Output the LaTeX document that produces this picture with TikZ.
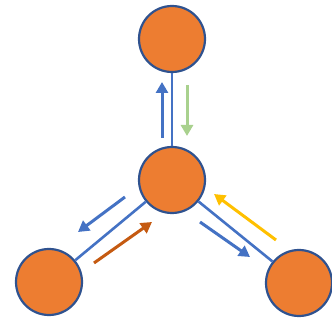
\documentclass[tikz,border=0pt]{standalone}
\usetikzlibrary{arrows.meta}
\definecolor{nodefill}{HTML}{ED7D31}
\definecolor{nodeborder}{HTML}{2F528F}
\definecolor{linkblue}{HTML}{4472C4}
\definecolor{arrgreen}{HTML}{A9D18E}
\definecolor{arrorange}{HTML}{C55A11}
\definecolor{arryellow}{HTML}{FFC000}
\tikzset{
  vertex/.style={circle, fill=nodefill, draw=nodeborder, line width=2.2pt, minimum size=66pt, inner sep=0pt},
  link/.style={draw=linkblue, line width=2.6pt},
  flow/.style={line width=3pt, -{Triangle[length=11pt,width=12pt]}}
}
\begin{document}
\begin{tikzpicture}[x=1pt,y=-1pt]
\useasboundingbox (0,0) rectangle (332,320);
\node[vertex] (top) at (172,39) {};
\node[vertex] (mid) at (172,180) {};
\node[vertex] (bl) at (49,282) {};
\node[vertex] (br) at (299,283) {};
\path[link] (top) -- (mid);
\path[link] (mid) -- (bl);
\path[link] (mid) -- (br);
\coordinate (a1s) at (162,138); \coordinate (a1e) at (162,82);
\coordinate (a2s) at (187,85);  \coordinate (a2e) at (187,136);
\coordinate (a3s) at (125,197); \coordinate (a3e) at (78,232);
\coordinate (a4s) at (94,263);  \coordinate (a4e) at (152,222);
\coordinate (a5s) at (200,222); \coordinate (a5e) at (250,257);
\coordinate (a6s) at (276,240); \coordinate (a6e) at (214,194);
\draw[flow, linkblue] (a1s) -- (a1e);
\draw[flow, arrgreen] (a2s) -- (a2e);
\draw[flow, linkblue] (a3s) -- (a3e);
\draw[flow, arrorange] (a4s) -- (a4e);
\draw[flow, linkblue] (a5s) -- (a5e);
\draw[flow, arryellow] (a6s) -- (a6e);
\end{tikzpicture}
\end{document}
